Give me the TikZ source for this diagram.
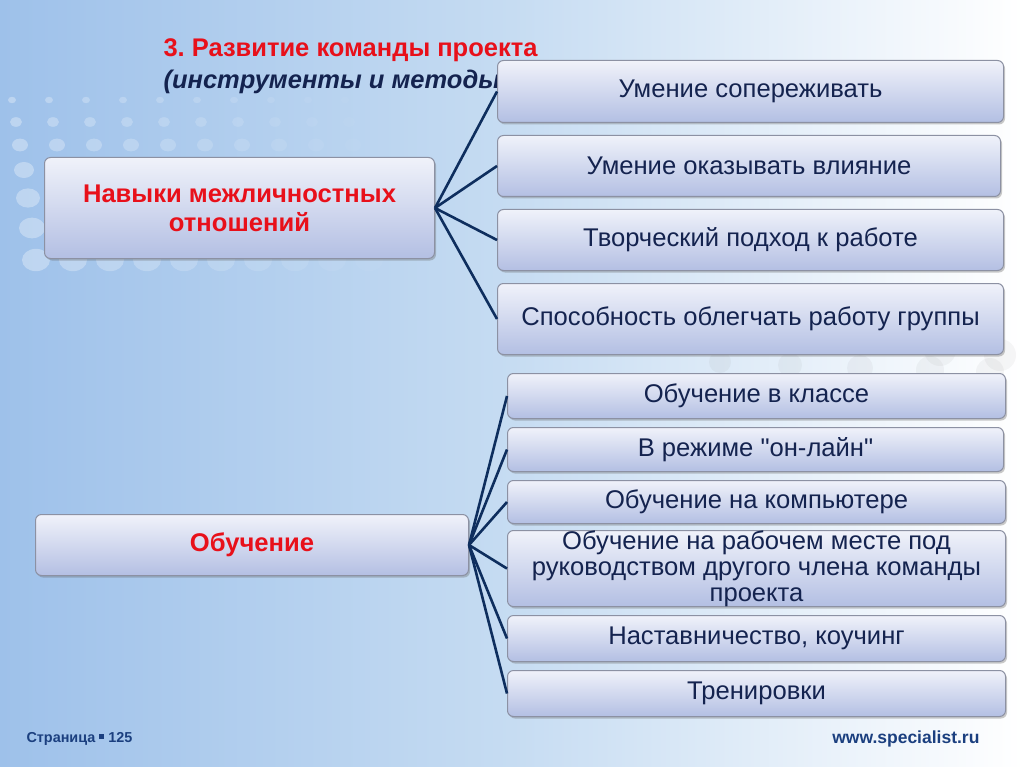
\documentclass[tikz,border=0pt]{standalone}
\usepackage{fontspec}
\setmainfont{Liberation Sans}
\newfontfamily\plainsans{Liberation Sans}
\usetikzlibrary{shadows}
\definecolor{navy}{HTML}{14234F}
\definecolor{linec}{HTML}{0E2E5E}
\definecolor{redt}{HTML}{E8101A}
\definecolor{bgl}{HTML}{9EC1EA}
\definecolor{bgm}{HTML}{C6DCF2}
\definecolor{boxtop}{HTML}{F0F2FA}
\definecolor{boxbot}{HTML}{B3BFE3}
\definecolor{boxedge}{HTML}{8C91A3}
\definecolor{foot}{HTML}{1B3F7F}
\tikzset{
  stepbox/.style={draw=boxedge, line width=1pt, rounded corners=6pt, top color=boxtop, bottom color=boxbot,
    drop shadow={shadow xshift=1.5pt, shadow yshift=-2pt, opacity=0.35, fill=black!60},
    anchor=north west, inner sep=0pt, align=center, text=navy, font=\fontsize{25.6}{26}\selectfont},
  headbox/.style={stepbox, text=redt, font=\bfseries\fontsize{25.6}{29}\selectfont},
  conn/.style={draw=linec, line width=2.6pt}
}
\begin{document}
\begin{tikzpicture}[x=1pt,y=-1pt]
\useasboundingbox (0,0) rectangle (1024,767);
% background
\shade[left color=bgl, right color=white, middle color=bgm] (0,0) rectangle (1024,767);
% decorative dots upper-left
\foreach \r/\y/\s in {0/100/4,1/122/6,2/145/8,3/170/10,4/198/12,5/228/13,6/260/14}{
  \foreach \c in {0,...,9}{
    \pgfmathsetmacro{\xx}{12+\c*37+\r*4}
    \pgfmathsetmacro{\op}{max(0.04,0.32-\c*0.032)}
    \fill[white, opacity=\op] (\xx,\y) ellipse ({\s pt} and {0.8*\s pt});
  }
}
% faint gray dots right
\foreach \xx/\y/\s in {640/300/10,700/310/12,760/320/13,820/330/14,880/340/15,940/350/16,1000/355/16,
                       720/362/11,790/365/12,860/368/13,930/370/14,990/372/14}{
  \fill[gray, opacity=0.07] (\xx,\y) circle ({\s pt});
}
% title
\node[anchor=base west, text=redt, font=\bfseries\fontsize{25.5}{29}\selectfont] (t1) at (160,57) {3.\ Развитие команды проекта};
\node[anchor=base west, text=navy, font=\bfseries\itshape\fontsize{25.5}{29}\selectfont] (t2) at (160,89) {(инструменты и методы)};
% left boxes
\node[headbox, minimum width=390pt, minimum height=101pt] (L1) at (44,157) {Навыки межличностных\\отношений};
\node[headbox, minimum width=433pt, minimum height=61pt] (L2) at (35,514) {Обучение};
% right boxes group 1
\node[stepbox, minimum width=506pt, minimum height=62pt] (A1) at (497,60) {Умение сопереживать};
\node[stepbox, minimum width=503pt, minimum height=61pt] (A2) at (497,135) {Умение оказывать влияние};
\node[stepbox, minimum width=506pt, minimum height=61pt] (A3) at (497,209) {Творческий подход к работе};
\node[stepbox, minimum width=506pt, minimum height=71pt] (A4) at (497,283) {Способность облегчать работу группы};
% right boxes group 2
\node[stepbox, minimum width=498pt, minimum height=45pt] (B1) at (507,373) {Обучение в классе};
\node[stepbox, minimum width=496pt, minimum height=44pt] (B2) at (507,427) {\plainsans В режиме "он-лайн"};
\node[stepbox, minimum width=498pt, minimum height=43pt] (B3) at (507,480) {Обучение на компьютере};
\node[stepbox, minimum width=498pt, minimum height=76pt] (B4) at (507,530) {Обучение на рабочем месте под\\руководством другого члена команды\\проекта};
\node[stepbox, minimum width=498pt, minimum height=46pt] (B5) at (507,615) {Наставничество, коучинг};
\node[stepbox, minimum width=498pt, minimum height=46pt] (B6) at (507,670) {Тренировки};
% connectors
\foreach \n in {A1,A2,A3,A4}{\draw[conn] (L1.east) -- (\n.west);}
\foreach \n in {B1,B2,B3,B4,B5,B6}{\draw[conn] (L2.east) -- (\n.west);}
% footer
\node[anchor=base west, text=foot, font=\bfseries\fontsize{14.4}{16}\selectfont] (f1) at (23,742) {Страница \raisebox{2.8pt}{\rule{5pt}{5pt}} 125};
\node[anchor=base east, text=foot, font=\bfseries\fontsize{17.5}{19}\selectfont] (f2) at (983,743) {www.specialist.ru};
\end{tikzpicture}
\end{document}
